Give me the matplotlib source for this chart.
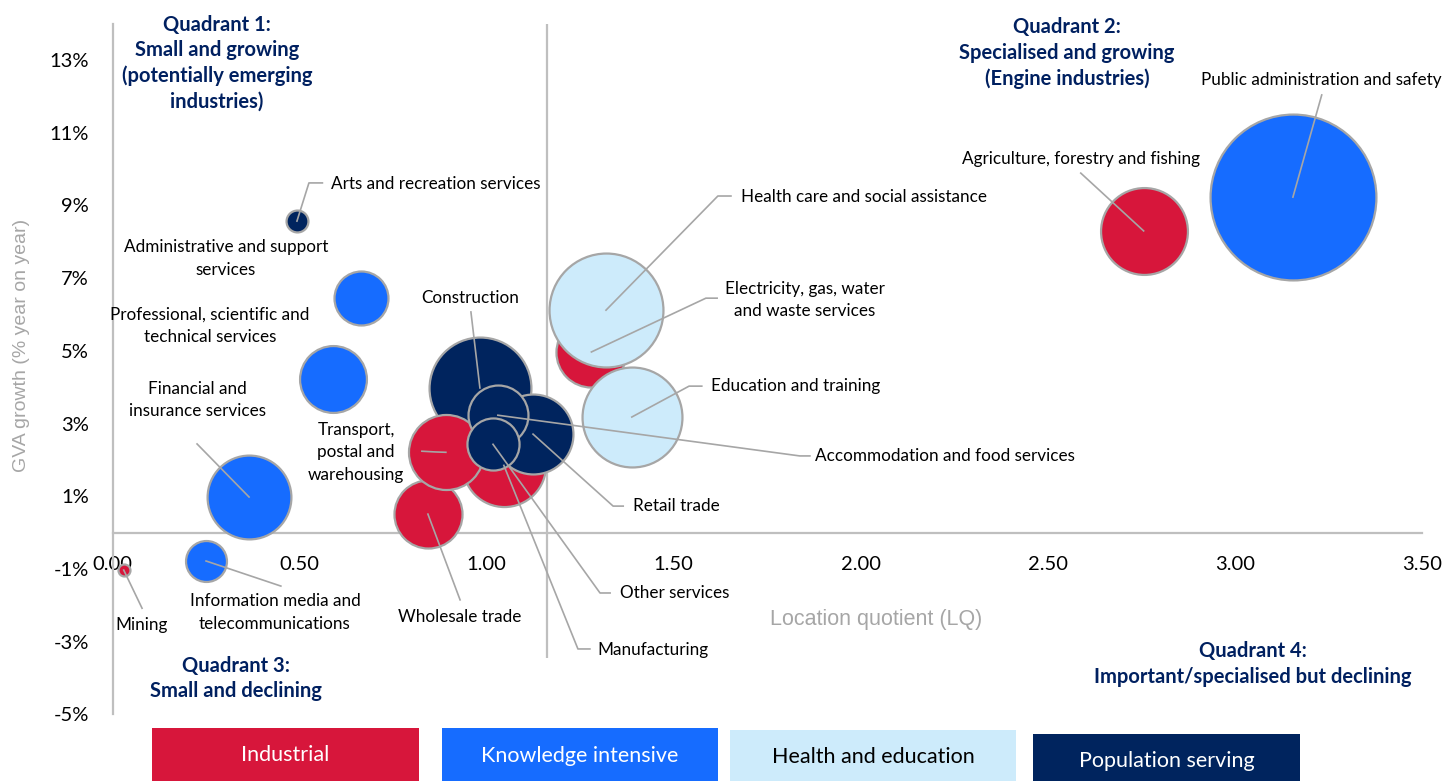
import numpy as np
import matplotlib.pyplot as plt
from matplotlib.patches import Rectangle

W, H = 1445, 781

# industries in drawing order (back to front)
industries = [
    "Mining", "Information media and telecommunications", "Financial and insurance services",
    "Professional, scientific and technical services", "Administrative and support services",
    "Arts and recreation services", "Agriculture, forestry and fishing",
    "Public administration and safety", "Electricity, gas, water and waste services",
    "Health care and social assistance", "Education and training", "Wholesale trade",
    "Construction", "Manufacturing", "Retail trade", "Transport, postal and warehousing",
    "Accommodation and food services", "Other services",
]
lq = [0.03, 0.25, 0.365, 0.59, 0.665, 0.493, 2.756, 3.155, 1.28, 1.319, 1.388, 0.843,
      0.982, 1.046, 1.124, 0.891, 1.03, 1.017]
growth = [-1.03, -0.78, 0.98, 4.23, 6.45, 8.57, 8.30, 9.23, 4.97, 6.12, 3.18, 0.51,
          3.98, 1.85, 2.71, 2.21, 3.23, 2.43]
bubble_size = [0.36, 4.2, 17.6, 11.2, 7.3, 1.2, 18.9, 68.9, 12.3, 32.5, 25.0, 11.6,
               26.0, 17.3, 16.0, 14.1, 9.0, 6.8]
group = ["Industrial", "Knowledge intensive", "Knowledge intensive", "Knowledge intensive",
         "Knowledge intensive", "Population serving", "Industrial", "Knowledge intensive",
         "Industrial", "Health and education", "Health and education", "Industrial",
         "Population serving", "Industrial", "Population serving", "Industrial",
         "Population serving", "Population serving"]

group_names = ["Industrial", "Knowledge intensive", "Health and education", "Population serving"]
group_colors = {"Industrial": "#D7163B", "Knowledge intensive": "#166CFF",
                "Health and education": "#CDEBFB", "Population serving": "#00245E"}
group_text = {"Industrial": "white", "Knowledge intensive": "white",
              "Health and education": "black", "Population serving": "white"}

avg_lq = 1.161

# label text, text position, alignment, leader points (from bubble centre outwards)
labels = {
    "Mining": ("Mining", (0.079, -2.54), "center", [(0.079, -2.08)]),
    "Information media and telecommunications": ("Information media and\ntelecommunications", (0.434, -2.2), "center", [(0.45, -1.47)]),
    "Financial and insurance services": ("Financial and\ninsurance services", (0.226, 3.65), "center", [(0.226, 2.44)]),
    "Professional, scientific and technical services": ("Professional, scientific and\ntechnical services", (0.261, 5.7), "center", []),
    "Administrative and support services": ("Administrative and support\nservices", (0.303, 7.54), "center", []),
    "Arts and recreation services": ("Arts and recreation services", (0.584, 9.6), "left", [(0.525, 9.62), (0.561, 9.62)]),
    "Agriculture, forestry and fishing": ("Agriculture, forestry and fishing", (2.588, 10.28), "center", [(2.588, 9.89)]),
    "Public administration and safety": ("Public administration and safety", (3.232, 12.45), "center", [(3.232, 12.04)]),
    "Electricity, gas, water and waste services": ("Electricity, gas, water\nand waste services", (1.851, 6.4), "center", [(1.586, 6.45), (1.616, 6.45)]),
    "Health care and social assistance": ("Health care and social assistance", (1.68, 9.23), "left", [(1.618, 9.26), (1.653, 9.26)]),
    "Education and training": ("Education and training", (1.6, 4.03), "left", [(1.541, 4.03), (1.575, 4.03)]),
    "Wholesale trade": ("Wholesale trade", (0.929, -2.32), "center", [(0.929, -1.85)]),
    "Construction": ("Construction", (0.955, 6.45), "center", [(0.958, 6.07)]),
    "Manufacturing": ("Manufacturing", (1.297, -3.23), "left", [(1.244, -3.2), (1.276, -3.2)]),
    "Retail trade": ("Retail trade", (1.391, 0.73), "left", [(1.338, 0.73), (1.365, 0.73)]),
    "Transport, postal and warehousing": ("Transport,\npostal and\nwarehousing", (0.651, 2.21), "center", [(0.862, 2.22), (0.827, 2.24)]),
    "Accommodation and food services": ("Accommodation and food services", (1.878, 2.11), "left", [(1.837, 2.11), (1.864, 2.11)]),
    "Other services": ("Other services", (1.356, -1.66), "left", [(1.303, -1.66), (1.33, -1.66)]),
}

quadrants = [
    ("Quadrant 1:\nSmall and growing\n(potentially emerging\nindustries)", 0.279, 12.92),
    ("Quadrant 2:\nSpecialised and growing\n(Engine industries)", 2.551, 13.19),
    ("Quadrant 3:\nSmall and declining", 0.33, -4.01),
    ("Quadrant 4:\nImportant/specialised but declining", 3.048, -3.61),
]

grey = "#A6A6A6"
axis_grey = "#BFBFBF"
navy_text = "#002060"
font = "Lato"

fig = plt.figure(figsize=(W / 100, H / 100), dpi=100)
ax = fig.add_axes([112.5 / W, 1 - 714.4 / H, (1422 - 112.5) / W, (714.4 - 23.7) / H])
ax.set_xlim(0, 3.5)
ax.set_ylim(-5, 14)

# average LQ divider
ax.plot([avg_lq, avg_lq], [-3.45, 14], color=axis_grey, lw=1.6, zorder=1, solid_capstyle="butt")

for i, name in enumerate(industries):
    ax.scatter(lq[i], growth[i], s=bubble_size[i] * 207, color=group_colors[group[i]],
               edgecolor=grey, linewidth=1.6, zorder=3 + i)

for i, name in enumerate(industries):
    txt, (tx, ty), ha, pts = labels[name]
    if pts:
        xs = [lq[i]] + [p[0] for p in pts]
        ys = [growth[i]] + [p[1] for p in pts]
        ax.plot(xs, ys, color=grey, lw=1.2, zorder=30)
    ax.text(tx, ty, txt, ha=ha, va="center", fontsize=12.3, family=font, color="black",
            linespacing=1.5, zorder=31)

for txt, qx, qy in quadrants:
    ax.text(qx, qy, txt, ha="center", va="center", fontsize=14.5, family=font,
            fontweight="bold", color=navy_text, linespacing=1.33, clip_on=False)

for s in ["top", "right"]:
    ax.spines[s].set_visible(False)
ax.spines["left"].set_color(axis_grey)
ax.spines["left"].set_linewidth(1.6)
ax.spines["bottom"].set_color(axis_grey)
ax.spines["bottom"].set_linewidth(1.6)
ax.spines["bottom"].set_position(("data", 0))

ax.set_yticks(np.arange(-5, 14, 2))
ax.set_yticklabels([f"{v}%" for v in np.arange(-5, 14, 2)])
ax.set_xticks(np.arange(0, 3.51, 0.5))
ax.set_xticklabels([f"{v:.2f}" for v in np.arange(0, 3.51, 0.5)])
ax.tick_params(axis="both", length=0, labelsize=14.5)
ax.tick_params(axis="y", pad=17)
ax.tick_params(axis="x", pad=17)
for lab in ax.get_xticklabels() + ax.get_yticklabels():
    lab.set_family(font)

fig.text(22 / W, 1 - 345 / H, "GVA growth (% year on year)", rotation=90, ha="center",
         va="center", fontsize=14, family="Liberation Sans", color=grey)
fig.text(876 / W, 1 - 620 / H, "Location quotient (LQ)", ha="center", va="center",
         fontsize=15.5, family="Liberation Sans", color=grey)

# category key boxes
boxes = [(152, 728, 419), (442, 728, 718), (730, 730, 1016), (1033, 734, 1300)]
text_y = [755, 756, 757, 761]
for (x0, y0, x1), gname, ty in zip(boxes, group_names, text_y):
    fig.add_artist(Rectangle((x0 / W, 0), (x1 - x0) / W, 1 - y0 / H,
                             transform=fig.transFigure, color=group_colors[gname], lw=0))
    fig.text((x0 + x1) / 2 / W, 1 - ty / H, gname, ha="center", va="center",
             fontsize=15.5, family=font, color=group_text[gname])

fig.savefig("out.png", dpi=100)
